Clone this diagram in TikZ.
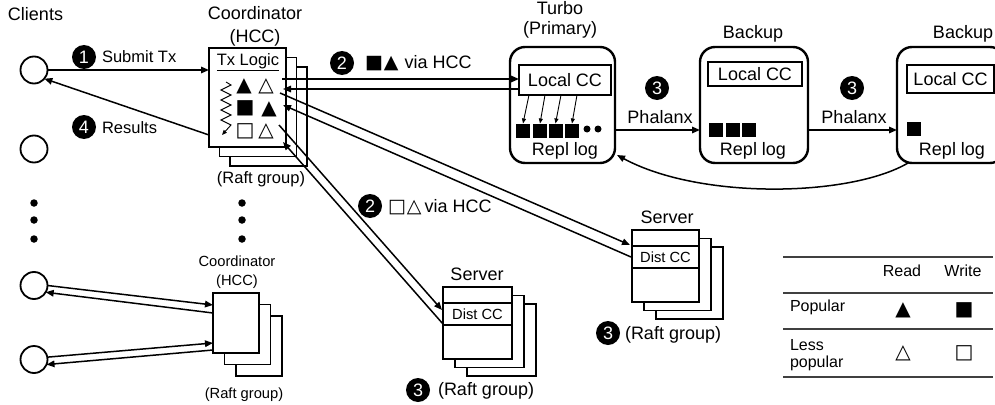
\documentclass[tikz,border=0pt]{standalone}
\usepackage{fontspec}
\setmainfont{Liberation Sans}
\newfontfamily\symfont{DejaVu Sans}
\usetikzlibrary{arrows.meta,calc}
\begin{document}
\begin{tikzpicture}[x=1pt,y=-1pt,
  every node/.style={inner sep=0pt, outer sep=0pt},
  fL/.style={font=\fontsize{18}{20}\selectfont},
  fM/.style={font=\fontsize{16.5}{18}\selectfont},
  fT/.style={font=\fontsize{16}{18}\selectfont},
  fS/.style={font=\fontsize{14.7}{17}\selectfont},
  sym/.style={font=\symfont\fontsize{20}{20}\selectfont},
  num/.style={circle, fill=black, text=white, minimum size=24pt, font=\fontsize{18}{18}\selectfont},
  client/.style={circle, draw, line width=1.8pt, minimum size=27pt},
  sbox/.style={draw, fill=white, line width=1.5pt, anchor=north west},
  rbox/.style={draw, line width=2.4pt, rounded corners=15pt, anchor=north west},
  sq/.style={fill=black, minimum size=14pt},
  dot/.style={circle, fill=black, minimum size=7.5pt},
  arr/.style={line width=1.5pt, -{Triangle[length=8pt,width=6.5pt]}},
  sarr/.style={line width=0.9pt, -{Triangle[length=5pt,width=4pt]}},
  tline/.style={line width=1.2pt, black!75},
]
\clip (0,0) rectangle (995,404);

% ---------- clients ----------
\node[fL, anchor=base west] (clients) at (8,21) {Clients};
\node[client] (cl1) at (34,70) {};
\node[client] (cl2) at (34,149) {};
\node[dot] (cd1) at (34,203) {};
\node[dot] (cd2) at (34,220) {};
\node[dot] (cd3) at (34,239) {};
\node[client] (cl3) at (34,285.5) {};
\node[client] (cl4) at (34,359.5) {};

% ---------- top coordinator ----------
\node[fL, anchor=base] (coordt) at (255,20) {Coordinator};
\node[fL, anchor=base] (hcct) at (255,42.5) {(HCC)};
\node[sbox, minimum width=77pt, minimum height=99pt] (c1c) at (230,67) {};
\node[sbox, minimum width=77pt, minimum height=99pt] (c1b) at (219.5,57.5) {};
\node[sbox, minimum width=77pt, minimum height=99pt] (c1) at (209,48) {};
\node[fM, anchor=base] (txl) at (248,65.5) {\underline{Tx Logic}};
\node[sym] (s11) at (244,86) {▲};
\node[sym] (s12) at (266,86) {△};
\node[sym] (s21) at (245,108) {■};
\node[sym] (s22) at (269,109) {▲};
\node[sym] (s31) at (245,131) {□};
\node[sym] (s32) at (266,131) {△};
\draw[sarr] (226,82) -- (231,85) -- (221,90) -- (231,95) -- (221,100) -- (231,105)
  -- (221,110) -- (231,115) -- (221,120) -- (231,125) -- (222,135);
\node[fM, anchor=base] (raftt) at (261,183) {(Raft group)};
\node[dot] (kd1) at (242,203) {};
\node[dot] (kd2) at (242,220) {};
\node[dot] (kd3) at (242,239) {};

% ---------- bottom coordinator ----------
\node[fS, anchor=base] (coordb) at (237,266.5) {Coordinator};
\node[fS, anchor=base] (hccb) at (237,285) {(HCC)};
\node[sbox, minimum width=46pt, minimum height=60pt] (c4c) at (236,316) {};
\node[sbox, minimum width=46pt, minimum height=60pt] (c4b) at (224.5,304.5) {};
\node[sbox, minimum width=46pt, minimum height=60pt] (c4) at (213,293) {};
\node[fS, anchor=base] (raftb) at (244,398) {(Raft group)};

% ---------- client arrows ----------
\node[num] (n1) at (84,57) {1};
\node[fM, anchor=base west] (t1) at (102,63) {Submit Tx};
\node[num] (n4) at (84,127) {4};
\node[fM, anchor=base west] (t4) at (102,133) {Results};
\draw[arr] (cl1.east) -- (cl1.east -| c1.west);
\draw[arr] ($(c1.south west)+(0,-12)$) -- (cl1.-40);
\draw[arr] (cl3.east) -- ($(c4.north west)+(0,12)$);
\draw[arr] ($(c4.north west)+(0,20)$) -- (cl3.-30);
\draw[arr] (cl4.10) -- ($(c4.north west)+(0,50)$);
\draw[arr] ($(c4.north west)+(0,57)$) -- (cl4.-22);

% ---------- Turbo and backups ----------
\node[fL, anchor=base] (turbot) at (560,15) {Turbo};
\node[fL, anchor=base] (primt) at (560,35) {(Primary)};
\node[rbox, minimum width=105pt, minimum height=116pt] (turbo) at (510,47) {};
\node[sbox, fL, minimum width=92pt, minimum height=30pt] (lcc1) at (519,65) {Local CC};
\node[sq] (sq1) at (523,130.5) {};
\node[sq] (sq2) at (540,130.5) {};
\node[sq] (sq3) at (555.5,130.5) {};
\node[sq] (sq4) at (572,130.5) {};
\node[circle, fill=black, minimum size=7pt] (ld1) at (587,129) {};
\node[circle, fill=black, minimum size=7pt] (ld2) at (598,129) {};
\draw[sarr] ($(lcc1.south west)+(10,0)$) -- (sq1.north);
\draw[sarr] ($(lcc1.south west)+(26,0)$) -- (sq2.north);
\draw[sarr] ($(lcc1.south west)+(42,0)$) -- (sq3.north);
\draw[sarr] ($(lcc1.south west)+(58,0)$) -- (sq4.north);
\node[fL, anchor=base] (rl1) at (565,155) {Repl log};

\node[fL, anchor=base] (bk1t) at (753,38.5) {Backup};
\node[rbox, minimum width=108pt, minimum height=116pt] (bk1) at (700,47) {};
\node[sbox, fL, minimum width=94pt, minimum height=24pt] (lcc2) at (708,62) {Local CC};
\node[sq] (sb1) at (716,129.5) {};
\node[sq] (sb2) at (733,129.5) {};
\node[sq] (sb3) at (749,129.5) {};
\node[fL, anchor=base] (rl2) at (753,155) {Repl log};

\node[fL, anchor=base] (bk2t) at (963,38.5) {Backup};
\node[rbox, minimum width=108pt, minimum height=116pt] (bk2) at (897,47) {};
\node[sbox, fL, minimum width=87pt, minimum height=28pt] (lcc3) at (907,65) {Local CC};
\node[sq] (sc1) at (913.5,129) {};
\node[fL, anchor=base] (rl3) at (952,155) {Repl log};

\node[num] (n3a) at (657,88) {3};
\node[fL, anchor=base] (ph1) at (660,123) {Phalanx};
\node[num] (n3b) at (852,88) {3};
\node[fL, anchor=base] (ph2) at (854,123) {Phalanx};
\draw[arr] ($(turbo.east)+(0,25)$) -- ($(bk1.west)+(0,25)$);
\draw[arr] ($(bk1.east)+(0,25)$) -- ($(bk2.west)+(0,25)$);
\draw[arr] ($(bk2.south west)+(11,0)$) .. controls (850,197) and (700,200) .. ($(turbo.south east)+(2,-8)$);

% ---------- servers ----------
\node[fL, anchor=base] (srvAt) at (667,223) {Server};
\node[sbox, minimum width=67pt, minimum height=72pt] (srA3) at (656,247) {};
\node[sbox, minimum width=67pt, minimum height=72pt] (srA2) at (644,238.5) {};
\node[sbox, minimum width=67pt, minimum height=72pt] (srA) at (632,230) {};
\node[sbox, fS, minimum width=67pt, minimum height=22pt] (ds1) at (632,246) {Dist CC};
\node[num] (n3c) at (608,333) {3};
\node[fL, anchor=base west] (raftA) at (625,339) {(Raft group)};

\node[fL, anchor=base] (srvBt) at (477,280) {Server};
\node[sbox, minimum width=69pt, minimum height=72pt] (srB3) at (467,304) {};
\node[sbox, minimum width=69pt, minimum height=72pt] (srB2) at (455,295.5) {};
\node[sbox, minimum width=69pt, minimum height=72pt] (srB) at (443,287) {};
\node[sbox, fS, minimum width=69pt, minimum height=22pt] (ds2) at (443,303) {Dist CC};
\node[num] (n3d) at (418,390) {3};
\node[fL, anchor=base west] (raftB) at (438,395) {(Raft group)};

% ---------- coordinator <-> participants ----------
\node[num] (n2a) at (342,63) {2};
\node[fL, anchor=base west] (l2a) at (365,68) {{\symfont\fontsize{19}{19}\selectfont ■\hspace{1pt}▲}\hspace{6pt}via HCC};
\node[num] (n2b) at (370,206) {2};
\node[fL, anchor=base west] (l2b) at (388,212) {{\symfont\fontsize{19}{19}\selectfont □\hspace{1pt}△}\hspace{3pt}via HCC};

\draw[arr] ($(c1.north east)+(-4,31)$) -- ($(lcc1.west)+(0,-1)$);
\draw[arr] ($(lcc1.west)+(0,9)$) -- ($(c1.north east)+(-3,41)$);
\draw[arr] ($(c1.north east)+(-6,45)$) -- ($(ds1.north west)+(-2,-1)$);
\draw[arr] ($(ds1.west)+(-1,0)$) -- ($(c1.north east)+(-3,57)$);
\draw[arr] ($(c1.north east)+(-7,77)$) -- ($(ds2.north west)+(-1,7)$);
\draw[arr] ($(ds2.south west)+(0,-1)$) -- ($(c1.north east)+(-3,94)$);

% ---------- legend table ----------
\coordinate (tl) at (783,257);
\coordinate (tr) at (993,257);
\draw[tline] (tl) -- (tr);
\draw[tline] ($(tl)+(0,36)$) -- ($(tr)+(0,36)$);
\draw[tline] ($(tl)+(0,72)$) -- ($(tr)+(0,72)$);
\draw[tline] ($(tl)+(0,120)$) -- ($(tr)+(0,120)$);
\node[fT, anchor=base] (hr) at (902,276.5) {Read};
\node[fT, anchor=base] (hw) at (963,276.5) {Write};
\node[fT, anchor=base west] (pop) at (790,311.5) {Popular};
\node[fT, anchor=base west] (less) at (790,350) {Less};
\node[fT, anchor=base west] (lpop) at (790,367.5) {popular};
\node[sym] (tr1) at (903,310) {▲};
\node[sym] (tw1) at (964,310) {■};
\node[sym] (tr2) at (903,353) {△};
\node[sym] (tw2) at (964,353) {□};
\end{tikzpicture}
\end{document}
